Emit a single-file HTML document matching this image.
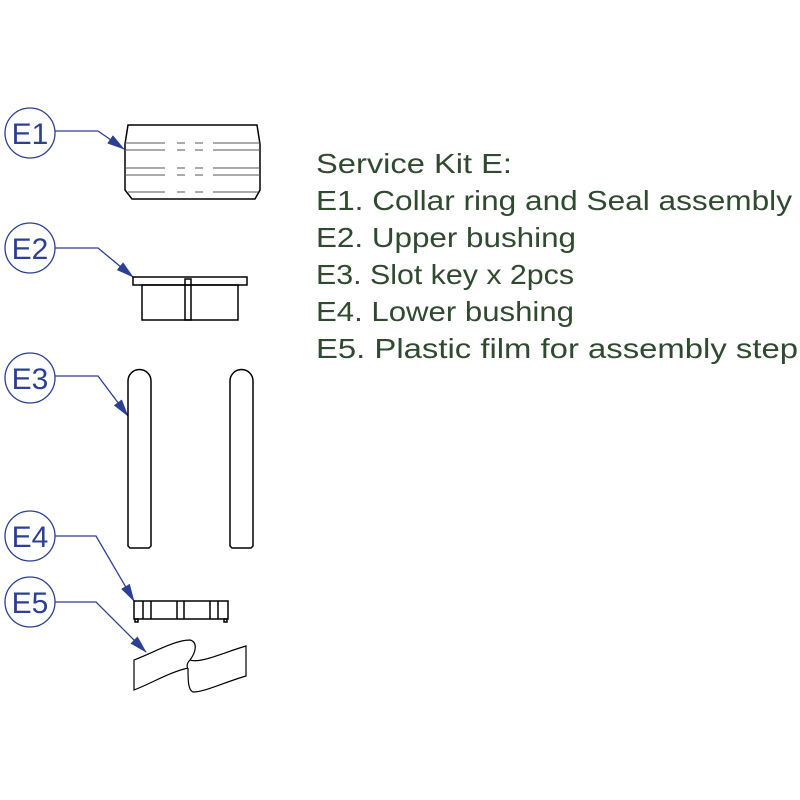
<!DOCTYPE html>
<html><head><style>html,body{margin:0;padding:0;background:#fff}svg{display:block}</style></head>
<body>
<svg width="800" height="800" viewBox="0 0 800 800" xmlns="http://www.w3.org/2000/svg">
<defs>
<marker id="a" markerWidth="18" markerHeight="10" refX="17" refY="5" orient="auto" markerUnits="userSpaceOnUse">
<path d="M0,0 L18,5 L0,10 Z" fill="#2b3f93"/>
</marker>
</defs>
<g fill="none" stroke="#2b3f93" stroke-width="1.3">
<circle cx="30" cy="133" r="25"/>
<circle cx="30" cy="248" r="25"/>
<circle cx="30" cy="378" r="25"/>
<circle cx="30" cy="536" r="25"/>
<circle cx="30" cy="602" r="25"/>
<polyline points="55,131 98,131 124,149" marker-end="url(#a)"/>
<polyline points="55,248 98,248 133,277" marker-end="url(#a)"/>
<polyline points="55,376 98,376 128,416" marker-end="url(#a)"/>
<polyline points="55,536 96,536 134,601" marker-end="url(#a)"/>
<polyline points="55,602 96,602 146,652" marker-end="url(#a)"/>
</g>
<g font-family="Liberation Sans, sans-serif" font-size="30" fill="#2b3f93" text-anchor="middle">
<text x="30" y="144">E1</text>
<text x="30" y="259">E2</text>
<text x="30" y="389">E3</text>
<text x="30" y="547">E4</text>
<text x="30" y="613">E5</text>
</g>
<g fill="none" stroke="#000" stroke-width="1.5">
<!-- E1 -->
<path d="M128,125 L257,125 L260,144 L260,190 L255,199 L132,199 L125,190 L125,144 Z"/>
<g stroke="#555" stroke-width="1">
<path d="M125,143 H165 M177,143 H185 M195,143 H203 M213,143 H260"/>
<path d="M125,150 H165 M177,150 H185 M195,150 H203 M213,150 H260"/>
<path d="M125,168 H165 M177,168 H185 M195,168 H203 M213,168 H260"/>
<path d="M125,175 H165 M177,175 H185 M195,175 H203 M213,175 H260"/>
<path d="M128,192 H165 M177,192 H185 M195,192 H203 M213,192 H258"/>
</g>
<!-- E2 -->
<rect x="133" y="277" width="114" height="8"/>
<rect x="142" y="285" width="96" height="35"/>
<rect x="185" y="279" width="6" height="41"/>
<!-- E3 -->
<path d="M130,548 L128,546 L128,381 A11.5,11.5 0 0 1 151,381 L151,546 L149,548 Z"/>
<path d="M232,548 L230,546 L230,381 A11.5,11.5 0 0 1 253,381 L253,546 L251,548 Z"/>
<!-- E4 -->
<rect x="134" y="601" width="94" height="18"/>
<line x1="143" y1="601" x2="143" y2="619"/>
<line x1="151" y1="601" x2="151" y2="619"/>
<line x1="177" y1="601" x2="177" y2="619"/>
<line x1="184" y1="601" x2="184" y2="619"/>
<line x1="210" y1="601" x2="210" y2="619"/>
<line x1="218" y1="601" x2="218" y2="619"/>
<rect x="135" y="619" width="3" height="3"/>
<rect x="224" y="619" width="3" height="3"/>
<!-- E5 -->
<path d="M134,660 C155,652 175,640 190,640 C198,642 196,652 190,660 C186,664 187,668 188,668 C170,672 150,684 134,690 Z" stroke-width="1.2"/>
<path d="M190,660 C200,664 225,652 246,646 L246,676 C225,682 205,692 193,692 C188,690 188,680 188,668" stroke-width="1.2"/>
</g>
<g font-family="Liberation Sans, sans-serif" font-size="28" fill="#2f4a2f">
<text x="316" y="173" textLength="196" lengthAdjust="spacingAndGlyphs">Service Kit E:</text>
<text x="316" y="210" textLength="476" lengthAdjust="spacingAndGlyphs">E1. Collar ring and Seal assembly</text>
<text x="316" y="247" textLength="260" lengthAdjust="spacingAndGlyphs">E2. Upper bushing</text>
<text x="316" y="284" textLength="258" lengthAdjust="spacingAndGlyphs">E3. Slot key x 2pcs</text>
<text x="316" y="321" textLength="258" lengthAdjust="spacingAndGlyphs">E4. Lower bushing</text>
<text x="316" y="358" textLength="482" lengthAdjust="spacingAndGlyphs">E5. Plastic film for assembly step</text>
</g>
</svg>
</body></html>
